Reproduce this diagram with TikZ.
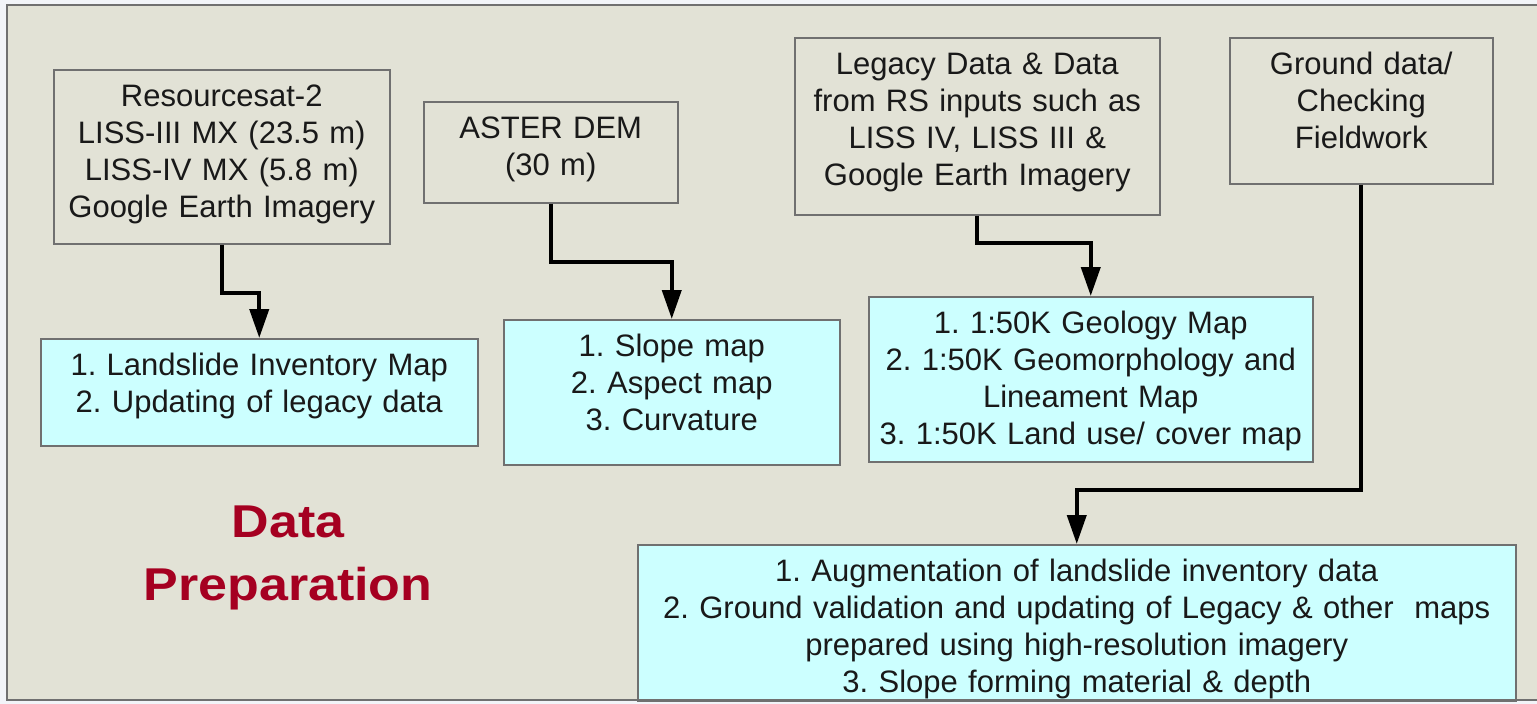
\documentclass[tikz,border=0pt]{standalone}
\usepackage{fontspec}
\setmainfont{Liberation Sans}
\newfontfamily\titlefont[FakeStretch=1.13]{Liberation Sans}
\usetikzlibrary{arrows.meta}
\frenchspacing
\definecolor{panelbg}{RGB}{226,226,214}
\definecolor{boxline}{RGB}{112,112,112}
\definecolor{cyanbox}{RGB}{204,255,255}
\definecolor{titlered}{RGB}{165,0,33}
\definecolor{txt}{RGB}{25,25,25}
\definecolor{outside}{RGB}{242,244,248}
\tikzset{
  srcbox/.style={draw=boxline, line width=1.5pt, fill=panelbg, inner sep=0pt,
    anchor=north west, align=center, text=txt,
    font=\frenchspacing\fontsize{31pt}{37pt}\selectfont, text height=36.5pt},
  outbox/.style={srcbox, fill=cyanbox},
  flow/.style={line width=4pt, black, -{Triangle[length=29pt,width=19pt]}},
  titletext/.style={text=titlered, align=center, anchor=base,
    font=\titlefont\bfseries\fontsize{46pt}{63pt}\selectfont},
}
\begin{document}
\begin{tikzpicture}[x=1pt,y=-1pt]
\useasboundingbox (0,0) rectangle (1537,704);
\fill[outside] (0,0) rectangle (1537,704);
\fill[panelbg] (7,5) rectangle (1545,700);

% source boxes
\node[srcbox, text width=336pt, text depth=137.5pt] (A) at (53,69)
  {Resourcesat-2\\LISS-III MX (23.5 m)\\LISS-IV MX (5.8 m)\\Google Earth Imagery};
\node[srcbox, text width=254pt, text depth=64.5pt] (B) at (423,101)
  {ASTER DEM\\(30 m)};
\node[srcbox, text width=365pt, text depth=140.5pt] (C) at (794,37)
  {Legacy Data \& Data\\from RS inputs such as\\LISS IV, LISS III \&\\Google Earth Imagery};
\node[srcbox, text width=263pt, text depth=109.5pt] (D) at (1229,37)
  {Ground data/\\Checking\\Fieldwork};

% output boxes
\node[outbox, text width=437pt, text depth=70.5pt] (one) at (40,338)
  {1. Landslide Inventory Map\\2. Updating of legacy data};
\node[outbox, text width=336pt, text depth=108.5pt] (two) at (503,319)
  {1. Slope map\\2. Aspect map\\3. Curvature};
\node[outbox, text width=444pt, text depth=128.5pt] (three) at (868,296)
  {1. 1:50K Geology Map\\2. 1:50K Geomorphology and\\Lineament Map\\3. 1:50K Land use/ cover map};
\node[outbox, text width=878pt, text depth=119.5pt] (four) at (637,544)
  {1. Augmentation of landslide inventory data\\2. Ground validation and updating of Legacy \& other~ maps\\prepared using high-resolution imagery\\3. Slope forming material \& depth};

% title
\node[titletext] (title) at (288,600) {Data\\Preparation};

% connectors
\draw[flow] (A.south) -- ++(0,48) -| (one.north);
\draw[flow] (B.south) -- ++(0,58) -| (two.north);
\draw[flow] (C.south) -- ++(0,27) -| (three.north);
\draw[flow] (D.south) -- ++(0,305) -| (four.north);

% panel border
\draw[boxline, line width=1.5pt] (1545,5) -- (7,5) -- (7,700) -- (1545,700);
\end{tikzpicture}
\end{document}
